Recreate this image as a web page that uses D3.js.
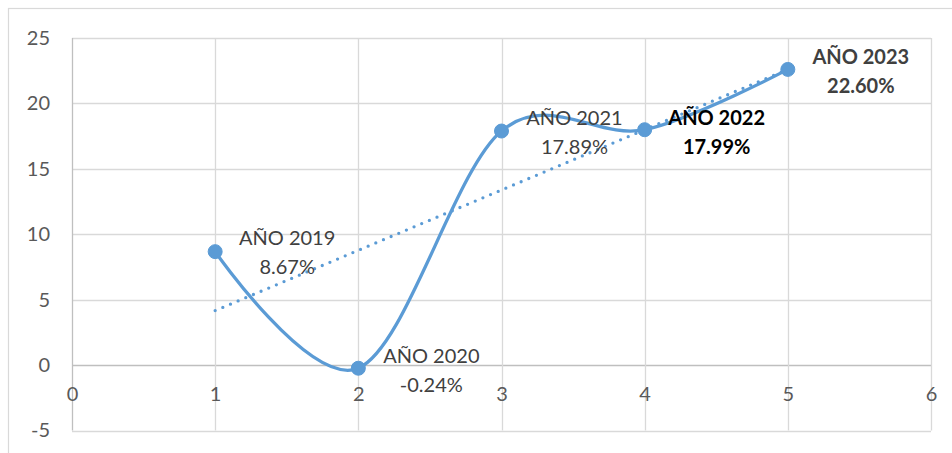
<!DOCTYPE html>
<html>
<head>
<meta charset="utf-8">
<script src="https://cdn.jsdelivr.net/npm/d3@7"></script>
<style>
  html, body { margin: 0; padding: 0; background: #fff; }
  svg { display: block; font-family: Lato, "Open Sans", sans-serif; }
</style>
</head>
<body>
<svg id="chart" width="952" height="453"></svg>
<script>
// ---- data ----
const xValues = [1, 2, 3, 4, 5];
const yValues = [8.67, -0.24, 17.89, 17.99, 22.60];
const labelYears = ["AÑO 2019", "AÑO 2020", "AÑO 2021", "AÑO 2022", "AÑO 2023"];
const labelValues = ["8.67%", "-0.24%", "17.89%", "17.99%", "22.60%"];
const xTicks = [0, 1, 2, 3, 4, 5, 6];
const yTicks = [-5, 0, 5, 10, 15, 20, 25];
const xTickLabels = ["0", "1", "2", "3", "4", "5", "6"];
const yTickLabels = ["-5", "0", "5", "10", "15", "20", "25"];

// ---- layout ----
const svg = d3.select("#chart");
const plot = { left: 72, right: 931, top: 38, bottom: 430.5 };
const x = d3.scaleLinear().domain([0, 6]).range([plot.left, plot.right]);
const y = d3.scaleLinear().domain([-5, 25]).range([plot.bottom, plot.top]);

// chart area border (extends past the visible crop)
svg.append("rect").attr("x", 8.5).attr("y", 8.5).attr("width", 1200).attr("height", 1200)
  .attr("fill", "#fff").attr("stroke", "#d9d9d9").attr("stroke-width", 1.2);

// gridlines
const grid = svg.append("g");
grid.selectAll("line.h").data(yTicks).join("line")
  .attr("x1", x(0)).attr("x2", x(6))
  .attr("y1", d => Math.round(y(d)) + 0.5).attr("y2", d => Math.round(y(d)) + 0.5)
  .attr("stroke", d => d === 0 ? "#bfbfbf" : "#d9d9d9").attr("stroke-width", 1.3);
grid.selectAll("line.v").data(xTicks).join("line")
  .attr("y1", y(-5)).attr("y2", y(25))
  .attr("x1", d => Math.round(x(d)) + 0.5).attr("x2", d => Math.round(x(d)) + 0.5)
  .attr("stroke", d => d === 0 ? "#bfbfbf" : "#d9d9d9").attr("stroke-width", 1.3);

// y axis labels
const yAxis = svg.append("g").attr("transform", `translate(${50},0)`)
  .call(d3.axisLeft(y).tickValues(yTicks).tickSize(0).tickPadding(0)
    .tickFormat((d, i) => yTickLabels[i]));
yAxis.select(".domain").remove();
yAxis.selectAll("text").attr("font-size", 20).attr("fill", "#595959")
  .attr("font-family", "Lato, sans-serif");

// x axis labels (placed below the zero line)
const xAxis = svg.append("g").attr("transform", `translate(0,${y(0)})`)
  .call(d3.axisBottom(x).tickValues(xTicks).tickSize(0).tickPadding(22)
    .tickFormat((d, i) => xTickLabels[i]));
xAxis.select(".domain").remove();
xAxis.selectAll("text").attr("font-size", 20).attr("fill", "#595959")
  .attr("font-family", "Lato, sans-serif");

const pts = xValues.map((v, i) => [v, yValues[i]]);

// linear trendline (least squares fit of the series)
const mx = d3.mean(xValues), my = d3.mean(yValues);
const slope = d3.sum(xValues, (v, i) => (v - mx) * (yValues[i] - my)) / d3.sum(xValues, v => (v - mx) ** 2);
const icpt = my - slope * mx;
const xMin = d3.min(xValues), xMax = d3.max(xValues);
svg.append("line")
  .attr("x1", x(xMin)).attr("y1", y(icpt + slope * xMin))
  .attr("x2", x(xMax)).attr("y2", y(icpt + slope * xMax))
  .attr("stroke", "#5b9bd5").attr("stroke-width", 3.3)
  .attr("stroke-linecap", "round").attr("stroke-dasharray", "0 8.3");

// smoothed series line
const line = d3.line().x(d => x(d[0])).y(d => y(d[1])).curve(d3.curveCardinal.tension(0));
svg.append("path").datum(pts).attr("d", line)
  .attr("fill", "none").attr("stroke", "#5b9bd5").attr("stroke-width", 3.3)
  .attr("stroke-linejoin", "round").attr("stroke-linecap", "round");

// markers
svg.append("g").selectAll("circle").data(pts).join("circle")
  .attr("cx", d => x(d[0])).attr("cy", d => y(d[1])).attr("r", 7)
  .attr("fill", "#5b9bd5").attr("stroke", "#5b9bd5").attr("stroke-width", 1);

// data labels (offsets relative to each point)
const labelStyle = [
  { dx: 72, dy: 0, weight: "normal", color: "#404040" },
  { dx: 73, dy: 2, weight: "normal", color: "#404040" },
  { dx: 73, dy: 1, weight: "normal", color: "#404040" },
  { dx: 72, dy: 2, weight: "bold", color: "#000000" },
  { dx: 73, dy: 1.5, weight: "bold", color: "#404040" }
];
const lab = svg.append("g").selectAll("text").data(pts).join("text")
  .attr("font-size", 20)
  .attr("text-anchor", "middle")
  .attr("font-weight", (d, i) => labelStyle[i].weight)
  .attr("fill", (d, i) => labelStyle[i].color);
lab.append("tspan")
  .attr("x", (d, i) => x(d[0]) + labelStyle[i].dx)
  .attr("y", (d, i) => y(d[1]) + labelStyle[i].dy - 14)
  .attr("dy", "0.35em")
  .text((d, i) => labelYears[i]);
lab.append("tspan")
  .attr("x", (d, i) => x(d[0]) + labelStyle[i].dx)
  .attr("y", (d, i) => y(d[1]) + labelStyle[i].dy + 15)
  .attr("dy", "0.35em")
  .text((d, i) => labelValues[i]);
</script>
</body>
</html>
